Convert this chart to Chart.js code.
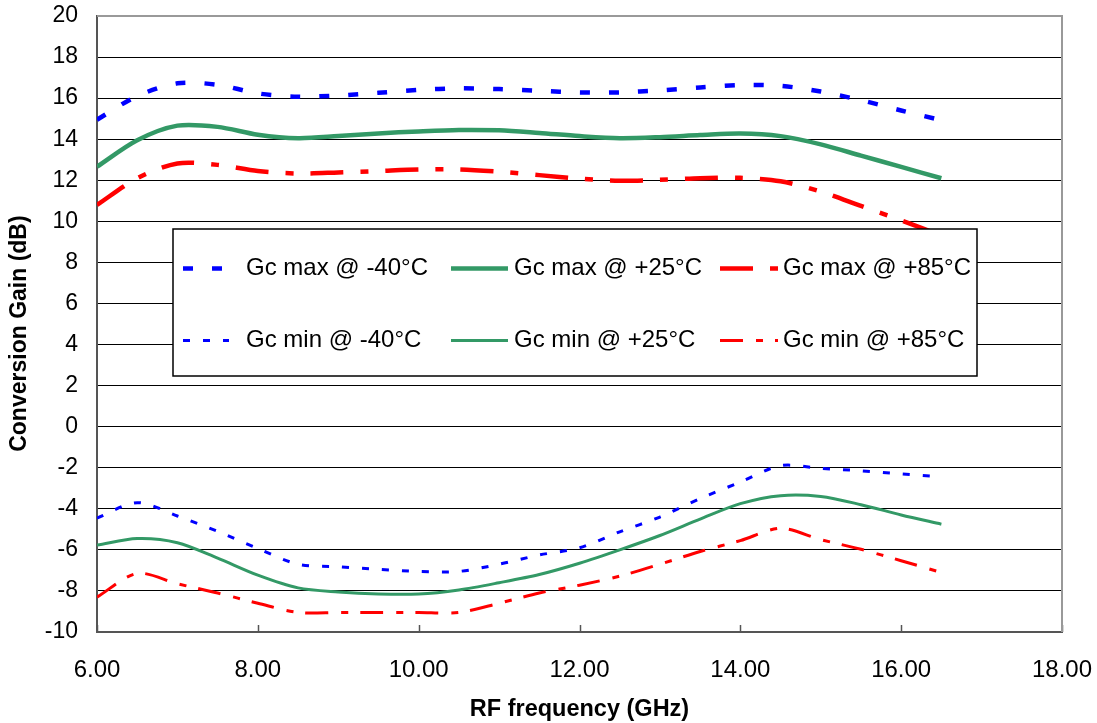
<!DOCTYPE html>
<html>
<head>
<meta charset="utf-8">
<title>Conversion Gain vs RF frequency</title>
<script src="https://cdn.jsdelivr.net/npm/chart.js@4.4.1/dist/chart.umd.min.js"></script>
<style>
  html, body { margin: 0; padding: 0; background: #fff; }
  #gainChart { display: block; }
</style>
</head>
<body>
<canvas id="gainChart" width="1097" height="723"></canvas>
<script>
// RF frequency points (GHz)
const freqGHz = [6.0, 6.5, 7.0, 7.5, 8.0, 8.5, 9.0, 9.5, 10.0, 10.5, 11.0,
                 11.5, 12.0, 12.5, 13.0, 13.5, 14.0, 14.5, 15.0, 15.5, 16.0, 16.5];

// Conversion gain (dB)
const gcMaxCold = [14.95, 16.1, 16.72, 16.65, 16.23, 16.07, 16.13, 16.26, 16.4, 16.48, 16.44,
                   16.36, 16.28, 16.28, 16.38, 16.52, 16.64, 16.6, 16.32, 15.9, 15.4, 14.92];
const gcMaxRoom = [12.66, 13.95, 14.66, 14.6, 14.22, 14.05, 14.15, 14.28, 14.38, 14.45, 14.43,
                   14.3, 14.15, 14.05, 14.1, 14.2, 14.28, 14.15, 13.75, 13.2, 12.65, 12.1];
const gcMaxHot  = [10.8, 12.1, 12.82, 12.75, 12.45, 12.33, 12.38, 12.45, 12.52, 12.53, 12.42,
                   12.25, 12.08, 11.98, 12.02, 12.1, 12.12, 11.95, 11.45, 10.75, 10.05, 9.3];
const gcMinCold = [-4.45, -3.7, -4.35, -5.1, -5.93, -6.7, -6.82, -6.95, -7.05, -7.05, -6.7,
                   -6.25, -5.9, -5.12, -4.4, -3.5, -2.7, -1.9, -2.03, -2.15, -2.3, -2.44];
const gcMinRoom = [-5.77, -5.45, -5.65, -6.4, -7.23, -7.85, -8.05, -8.15, -8.15, -7.95, -7.6,
                   -7.2, -6.65, -6.0, -5.3, -4.5, -3.75, -3.36, -3.4, -3.8, -4.3, -4.75];
const gcMinHot  = [-8.3, -7.15, -7.65, -8.1, -8.6, -9.05, -9.05, -9.05, -9.05, -9.05, -8.6,
                   -8.1, -7.72, -7.28, -6.7, -6.08, -5.55, -4.95, -5.5, -5.97, -6.53, -7.1];

const seriesLabels = ['Gc max @ -40°C', 'Gc max @ +25°C', 'Gc max @ +85°C',
                      'Gc min @ -40°C', 'Gc min @ +25°C', 'Gc min @ +85°C'];

const BLUE = '#0000FF';
const GREEN = '#339966';
const RED = '#FF0000';
const FONT = '"Liberation Sans", Arial, sans-serif';

Chart.defaults.font.family = FONT;
Chart.defaults.color = '#000';

function toPoints(values) {
    return freqGHz.map((f, i) => ({ x: f, y: values[i] }));
}

function makeSeries(label, values, color, width, dash) {
    return {
        label: label,
        data: toPoints(values),
        borderColor: color,
        backgroundColor: color,
        borderWidth: width,
        borderDash: dash,
        borderCapStyle: 'butt',
        pointRadius: 0,
        fill: false,
        tension: 0.3
    };
}

// plot frame (top/right) and the small inward ticks on the x axis
const plotFrame = {
    id: 'plotFrame',
    afterDatasetsDraw(chart) {
        const { ctx, chartArea: a, scales: { x } } = chart;
        ctx.save();
        ctx.strokeStyle = '#555';
        ctx.lineWidth = 1.5;
        x.ticks.forEach(t => {
            const px = Math.round(x.getPixelForValue(t.value)) + 0.5;
            ctx.beginPath();
            ctx.moveTo(px, a.bottom);
            ctx.lineTo(px, a.bottom - 7);
            ctx.stroke();
        });
        ctx.strokeStyle = '#999';
        ctx.lineWidth = 2;
        ctx.beginPath();
        ctx.moveTo(a.left, a.top);
        ctx.lineTo(a.right, a.top);
        ctx.lineTo(a.right, a.bottom);
        ctx.stroke();
        ctx.restore();
    }
};

// boxed legend sitting inside the plot, 3 columns x 2 rows
const boxLegend = {
    id: 'boxLegend',
    afterDatasetsDraw(chart) {
        const { ctx, chartArea: a } = chart;
        const x0 = a.left + 76, y0 = a.top + 213, w = 804, h = 147;
        const colX = [10, 278, 547];
        const rowY = [39.5, 111.5];
        const swatchLen = [46, 57, 58];
        ctx.save();
        ctx.fillStyle = '#fff';
        ctx.fillRect(x0, y0, w, h);
        ctx.strokeStyle = '#000';
        ctx.lineWidth = 1.5;
        ctx.strokeRect(x0, y0, w, h);
        chart.data.datasets.forEach((ds, i) => {
            const col = i % 3;
            const cx = x0 + colX[col];
            const cy = y0 + rowY[Math.floor(i / 3)];
            ctx.beginPath();
            ctx.strokeStyle = ds.borderColor;
            ctx.lineWidth = ds.borderWidth;
            ctx.lineCap = 'butt';
            ctx.setLineDash(ds.borderDash || []);
            ctx.moveTo(cx, cy);
            ctx.lineTo(cx + swatchLen[col], cy);
            ctx.stroke();
            ctx.setLineDash([]);
            ctx.fillStyle = '#000';
            ctx.font = '24px ' + FONT;
            ctx.textBaseline = 'middle';
            ctx.textAlign = 'left';
            ctx.fillText(ds.label, cx + 63, cy);
        });
        ctx.restore();
    }
};

const ctx = document.getElementById('gainChart');
new Chart(ctx, {
    type: 'line',
    data: {
        datasets: [
            makeSeries(seriesLabels[0], gcMaxCold, BLUE, 4.5, [10, 19]),
            makeSeries(seriesLabels[1], gcMaxRoom, GREEN, 4.5, []),
            makeSeries(seriesLabels[2], gcMaxHot, RED, 4.5, [33, 17, 8, 17]),
            makeSeries(seriesLabels[3], gcMinCold, BLUE, 3, [7, 13]),
            makeSeries(seriesLabels[4], gcMinRoom, GREEN, 3, []),
            makeSeries(seriesLabels[5], gcMinHot, RED, 3, [23, 13, 7, 12])
        ]
    },
    options: {
        responsive: false,
        animation: false,
        layout: { padding: 0 },
        plugins: {
            legend: { display: false },
            tooltip: { enabled: false }
        },
        scales: {
            x: {
                type: 'linear',
                min: 6,
                max: 18,
                ticks: {
                    stepSize: 2,
                    padding: 24,
                    font: { size: 24 },
                    callback: v => v.toFixed(2)
                },
                grid: { drawOnChartArea: false, drawTicks: false },
                border: { display: true, color: '#555', width: 2 },
                title: {
                    display: true,
                    text: 'RF frequency (GHz)',
                    font: { size: 23.5, weight: 'bold' },
                    padding: { top: 0, bottom: -1 }
                },
                afterFit(scale) {
                    scale.height = 91;
                    scale.paddingRight = 35; // plot ends at 18.00, label may run past
                }
            },
            y: {
                min: -10,
                max: 20,
                ticks: {
                    stepSize: 2,
                    padding: 19,
                    font: { size: 23 }
                },
                grid: { color: '#000', lineWidth: 1, drawTicks: false },
                border: { display: true, color: '#555', width: 2 },
                title: {
                    display: true,
                    text: 'Conversion Gain (dB)   ',
                    font: { size: 23, weight: 'bold' },
                    padding: { top: 6, bottom: 0 }
                },
                afterFit(scale) {
                    scale.width = 97;
                    scale.paddingTop = 16;
                }
            }
        }
    },
    plugins: [plotFrame, boxLegend]
});
</script>
</body>
</html>
